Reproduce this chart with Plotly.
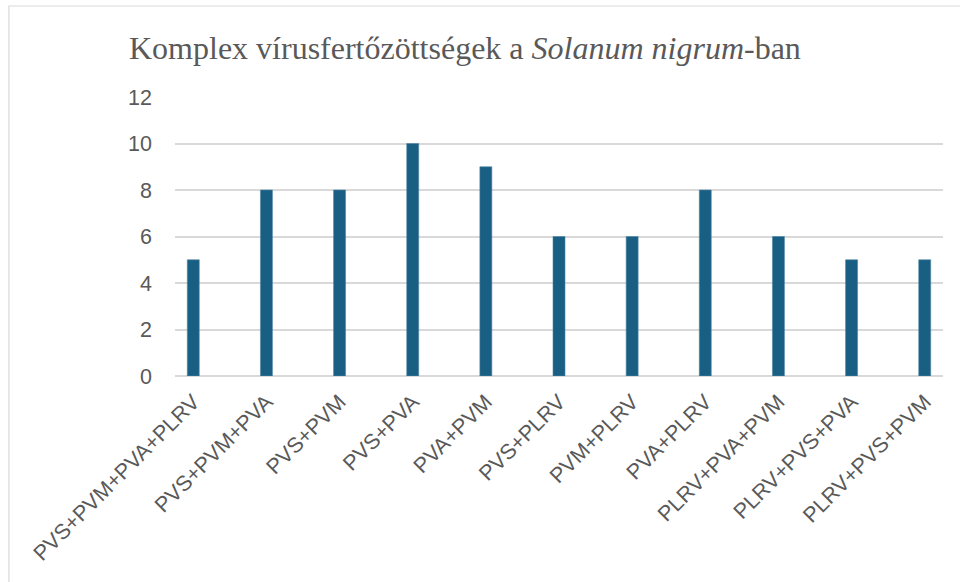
import plotly.graph_objects as go

categories = ["PVS+PVM+PVA+PLRV", "PVS+PVM+PVA", "PVS+PVM", "PVS+PVA", "PVA+PVM",
              "PVS+PLRV", "PVM+PLRV", "PVA+PLRV", "PLRV+PVA+PVM", "PLRV+PVS+PVA", "PLRV+PVS+PVM"]
values = [5, 8, 8, 10, 9, 6, 6, 8, 6, 5, 5]
y_ticks = [0, 2, 4, 6, 8, 10, 12]

W, H = 960, 582
L, R, T, B = 175, 17.3, 97, 206
pw = W - L - R
ph = H - T - B

def px_x(x):
    return (x - L) / pw

def px_y(y):
    return (H - B - y) / ph

fig = go.Figure()
fig.add_trace(go.Bar(
    x=categories, y=values, width=0.164,
    marker=dict(color="#195f83", line=dict(color="#4f88a6", width=0.6)),
    hoverinfo="x+y",
))

fig.update_layout(
    width=W, height=H,
    margin=dict(l=L, r=R, t=T, b=B, autoexpand=False),
    paper_bgcolor="white", plot_bgcolor="white",
    showlegend=False,
    font=dict(family="Liberation Sans, Arial, sans-serif", color="#595959"),
    xaxis=dict(
        type="category", range=[-0.25, 10.25],
        tickangle=-45, tickfont=dict(size=21.5, color="#595959"),
        showgrid=False, showline=False, ticks="", ticklabelstandoff=8,
    ),
    yaxis=dict(
        range=[0, 12], tickvals=y_ticks, tickfont=dict(size=21.5, color="#595959"),
        showgrid=True, gridcolor="#d9d9d9", gridwidth=1.5,
        zeroline=True, zerolinecolor="#d9d9d9", zerolinewidth=1.5,
        showline=False, ticks="", ticklabelstandoff=22,
    ),
    annotations=[dict(
        text="Komplex vírusfertőzöttségek a <i>Solanum nigrum</i>-ban",
        xref="paper", yref="paper", x=px_x(127), y=px_y(48),
        xanchor="left", yanchor="middle", showarrow=False,
        font=dict(family="Liberation Serif, Times New Roman, serif", size=32, color="#595959"),
    )],
    shapes=[dict(
        type="rect", xref="paper", yref="paper",
        x0=px_x(9), x1=px_x(990), y0=px_y(6), y1=px_y(620),
        line=dict(color="#d9d9d9", width=1.2), fillcolor="rgba(0,0,0,0)", layer="below",
    )],
)

fig.write_html("out.html", config={"displayModeBar": False},
               post_script="document.body.style.margin='0px';document.body.style.padding='0px';")
